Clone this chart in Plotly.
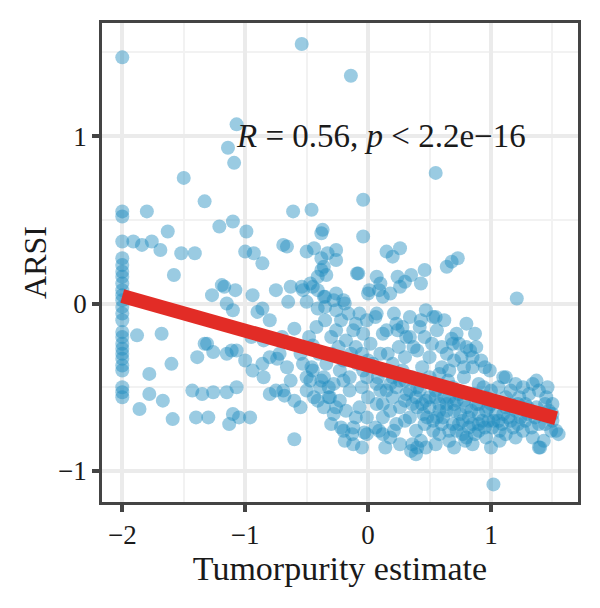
import plotly.graph_objects as go

# Tumor purity estimate (x) and ARSI (y)
purity = [
    -2.0, -2.0, -2.0, -2.0, -2.0, -2.0, -2.0, -2.0, -2.0, -2.0, -2.0, -2.0, -2.0,
    -2.0, -2.0, -2.0, -2.0, -2.0, -2.0, -2.0, -2.0, -2.0, -2.0, -2.0, -2.0, -2.0,
    -0.54, -0.14, -1.07, -1.14, -1.09, -1.5, 0.55, -1.33, -0.04, -0.61, -0.46, -1.8, -1.63, -1.21, -1.1, -0.99, -0.37, -0.04, -0.38,
    -1.91, -1.84, -1.76, -1.69, -1.52, -1.41, -1.58, -1.0, -0.93, -0.86, -0.69, -0.66, -0.5, -0.44,
    -0.38, -0.33, -0.26, -0.26, -0.36, -0.41, 0.15, 0.26, 0.2, 0.64, 0.68, 0.73, 0.46,
    -0.38, -0.34, -0.09, 0.07, 0.1, 0.01, 0.24, 0.3, 0.35, 0.43, 0.26, -0.08, -1.19, -1.08,
    -0.94, -0.75, -0.63, -0.54, -0.47, -0.41, -0.35, -0.26, 0.0, 0.09, 1.21, -1.27, -1.17, -1.15,
    -1.1, -0.86, -0.65, -0.53, -0.45, -0.36, -0.28, -0.2, -0.5, -0.41, 0.18, 0.12,
    -1.88, -1.68, -1.6, -1.78, -1.39, -1.33, -1.26, -1.15, -1.07, -1.0, -0.94, -0.86, -0.8, -0.72,
    -1.78, -1.67, -1.86, -1.59, -1.43, -1.35, -1.26, -1.15, -1.07, -1.1, -1.05, -0.96, -1.13, -1.4,
    -1.3, -0.8, -0.69, -0.66, -0.74, -1.31, -1.11,
    -0.85, -0.75, -0.68, -0.6, -0.55, -0.63, -0.5, -0.46, -0.38, -0.32, -0.6, -0.41, -0.32, -0.26,
    -0.22, -0.19, -0.13, -0.03, -0.07, -0.35, -0.26, -0.19, -0.53, -0.45, -0.36, -0.28, -0.2, -0.15,
    -0.39, -0.47, -0.31, -0.23, -0.12, -0.04, -0.18, -0.26, -0.1, -0.09, -0.04, -0.15, -0.23, -0.34,
    -0.2, -0.12, -0.07, -0.7, -0.6, -0.8, -0.9, -0.55, -0.45, -0.3, -0.2, -0.62, -0.95, -0.85,
    0.06, 0.21, 0.34, 0.43, 0.55, 0.12, 0.24, 0.31, 0.37, 0.07, -0.01, 0.15, 0.23, 0.28,
    0.42, 0.47, 0.53, 0.34, 0.8, 0.87, 0.52, 0.46, 0.68, 0.72, 0.69, 0.8, 0.88, 0.85,
    0.92, 0.95, 0.85, 0.76, 0.74, 0.83, 0.99, 1.12, 1.2, 1.37, 1.46, 1.34, 1.1,
    -0.01, 0.07, 0.15, 0.23, 0.31, 0.39, 0.47, 0.55, 0.64, 0.72, 0.8, 0.88, 0.96, 1.04,
    1.12, 1.2, 1.28, 1.37, 1.45,
    0.26, 0.34, 0.45, 0.53, 0.61, 0.69, 0.77, 0.85, 0.93, 1.01, 1.09, 1.18, 1.28, 1.39, 1.5, 1.53,
    -0.01, 0.09, 0.18, 0.36, 0.39, 0.47, 0.58, 0.66, 0.8, 0.85, 0.96, 1.07, 1.2, 1.39,
    0.12, 0.2, 0.28, 0.36, 0.45, 0.53, 0.61, 0.69, 0.74, 0.96, 1.04, 1.12, 1.23, 1.31, 1.39, 1.5,
    0.12, 0.2, 0.07, -0.01, 0.12, 0.23, 0.39, 0.53, 0.66, 0.77, 0.9, 1.07, 1.26, 1.34,
    0.35, 0.4, 0.43, 0.79, 0.87, 1.02, 1.4, 1.43, 1.49, 1.55, 0.06, 0.12, 0.21,
    0.3, 0.42, 0.5, 0.58, 0.62, 0.7, 0.75, 0.82, 0.9, 0.98, 1.0, 1.06, 1.14, 1.16,
    1.24, 1.3, 1.33, 1.42, 1.47, 0.6, 0.72, 0.95, 0.4, 0.48, 0.18, 0.3, 0.55, 0.65,
    0.78, 0.9, 1.0, 0.86, 0.1, 0.0, -0.05, 0.04, 0.16, 0.25, 0.5, 0.6, 0.64, 0.44,
    0.2, 0.1, 0.56, 0.62,
]
arsi = [
    1.47, 0.55, 0.52, 0.37, 0.27, 0.23, 0.19, 0.16, 0.12, 0.08, 0.05, 0.02, -0.02,
    -0.06, -0.1, -0.17, -0.2, -0.24, -0.27, -0.3, -0.33, -0.37, -0.4, -0.5, -0.53, -0.56,
    1.55, 1.36, 1.07, 0.93, 0.84, 0.75, 0.78, 0.61, 0.62, 0.55, 0.56, 0.55, 0.43, 0.46, 0.49, 0.43, 0.44, 0.4, 0.42,
    0.37, 0.35, 0.37, 0.32, 0.3, 0.3, 0.17, 0.31, 0.3, 0.24, 0.35, 0.34, 0.31, 0.33,
    0.27, 0.3, 0.32, 0.26, 0.22, 0.16, 0.31, 0.33, 0.28, 0.22, 0.25, 0.27, 0.2,
    0.2, 0.17, 0.18, 0.16, 0.12, 0.08, 0.16, 0.13, 0.17, 0.12, 0.1, 0.18, 0.11, 0.08,
    0.05, 0.08, 0.1, 0.1, 0.12, 0.08, 0.04, 0.06, 0.06, 0.08, 0.03, 0.05, 0.1, 0.0,
    -0.04, -0.03, 0.01, 0.08, 0.1, 0.04, 0.02, 0.02, 0.01, -0.03, 0.06, 0.04,
    -0.19, -0.18, -0.36, -0.42, -0.32, -0.24, -0.29, -0.3, -0.28, -0.34, -0.4, -0.36, -0.32, -0.3,
    -0.54, -0.58, -0.63, -0.69, -0.52, -0.54, -0.53, -0.53, -0.5, -0.66, -0.68, -0.68, -0.72, -0.68,
    -0.68, -0.54, -0.52, -0.38, -0.33, -0.24, -0.28,
    -0.44, -0.52, -0.55, -0.58, -0.62, -0.46, -0.44, -0.38, -0.46, -0.5, -0.81, -0.58, -0.56, -0.62,
    -0.74, -0.82, -0.78, -0.77, -0.06, -0.02, -0.04, 0.0, -0.36, -0.4, -0.44, -0.48, -0.46, -0.52,
    -0.5, -0.46, -0.56, -0.58, -0.16, -0.18, -0.22, -0.16, -0.26, -0.36, -0.4, -0.44, -0.4, -0.36,
    -0.76, -0.74, -0.62, -0.2, -0.15, -0.1, -0.05, -0.3, -0.25, -0.3, -0.34, -0.24, -0.2, -0.22,
    -0.08, -0.06, -0.08, -0.1, -0.08, -0.18, -0.16, -0.2, -0.26, -0.06, -0.1, -0.16, -0.12, -0.14,
    -0.14, -0.04, -0.08, -0.2, -0.12, -0.18, -0.24, -0.2, -0.21, -0.18, -0.24, -0.26, -0.26, -0.32,
    -0.34, -0.38, -0.38, -0.32, -0.24, -0.28, -0.4, -0.44, -0.48, -0.46, -0.5, -0.48, -0.44,
    -0.44, -0.48, -0.52, -0.5, -0.54, -0.56, -0.58, -0.56, -0.6, -0.58, -0.62, -0.6, -0.64, -0.66,
    -0.62, -0.64, -0.6, -0.62, -0.56,
    -0.62, -0.68, -0.66, -0.7, -0.68, -0.72, -0.7, -0.72, -0.7, -0.74, -0.72, -0.74, -0.7, -0.72, -0.7, -0.76,
    -0.78, -0.76, -0.8, -0.84, -0.9, -0.86, -0.78, -0.82, -0.8, -0.84, -0.8, -0.82, -0.8, -0.86,
    -0.4, -0.44, -0.4, -0.44, -0.46, -0.48, -0.5, -0.5, -0.54, -0.56, -0.58, -0.56, -0.56, -0.54, -0.52, -0.6,
    -0.6, -0.56, -0.6, -0.68, -0.68, -0.72, -0.76, -0.76, -0.76, -0.78, -0.76, -0.76, -0.76, -0.8,
    -0.88, -0.86, -0.82, -0.82, -0.78, -1.08, -0.86, -0.82, -0.76, -0.78, -0.74, -0.78, -0.76,
    -0.46, -0.52, -0.62, -0.64, -0.56, -0.64, -0.66, -0.68, -0.66, -0.7, -0.6, -0.7, -0.68, -0.6,
    -0.68, -0.66, -0.74, -0.66, -0.64, -0.72, -0.76, -0.74, -0.62, -0.68, -0.64, -0.7, -0.52, -0.46,
    -0.44, -0.48, -0.52, -0.54, -0.52, -0.56, -0.5, -0.36, -0.3, -0.26, -0.32, -0.38, -0.3, -0.38,
    -0.36, -0.3, -0.16, -0.1,
]

# Extra points in the densest part of the cloud
purity_dense = [
    -0.48, -0.42, -0.35, -0.3, -0.22, -0.16, -0.1, -0.05, 0.02, 0.0, -0.14,
    -0.24, -0.4, -0.5, -0.44, -0.36, -0.28, -0.1, -0.18, -0.3, -0.12, -0.05,
    0.3, 0.36, 0.44, 0.5, 0.58, 0.66, 0.7, 0.78, 0.84, 0.9,
    0.98, 1.02, 1.1, 1.16, 1.22, 1.3, 1.36, 1.44, 1.5, 0.46,
    0.56, 0.64, 0.74, 0.82, 0.9, 1.12, 1.22, 0.34, 0.26, 0.18,
    0.08, 0.4, 0.5, 0.58, 0.66, 0.7, 0.78, 0.6, 0.4, 0.3,
    0.94, 1.06, 1.16, 1.26, 1.44, 1.0, 0.7, 0.55, 0.26, 0.14,
]
arsi_dense = [
    -0.2, -0.14, -0.1, -0.2, -0.1, -0.06, -0.12, -0.3, -0.24, -0.34, -0.3,
    -0.26, -0.3, -0.52, -0.56, -0.62, -0.66, -0.68, -0.64, -0.72, -0.84, -0.86,
    -0.58, -0.6, -0.6, -0.56, -0.6, -0.56, -0.6, -0.58, -0.64, -0.6,
    -0.62, -0.7, -0.66, -0.7, -0.72, -0.62, -0.68, -0.72, -0.66, -0.72,
    -0.68, -0.64, -0.72, -0.74, -0.72, -0.78, -0.6, -0.52, -0.46, -0.48,
    -0.44, -0.5, -0.44, -0.42, -0.4, -0.34, -0.38, -0.26, -0.28, -0.32,
    -0.5, -0.5, -0.52, -0.5, -0.6, -0.86, -0.86, -0.84, -0.84, -0.86,
]

# Regression line end points
fit_x = [-2.0, 1.53]
fit_y = [0.045, -0.685]

x_ticks = [-2, -1, 0, 1]
x_tick_text = ["\u22122", "\u22121", "0", "1"]
y_ticks = [-1, 0, 1]
y_tick_text = ["\u22121", "0", "1"]
annotation_text = "<i>R</i> = 0.56, <i>p</i> &lt; 2.2e\u221216"

FONT = "Liberation Serif"

fig = go.Figure()
fig.add_trace(go.Scatter(
    x=purity + purity_dense, y=arsi + arsi_dense, mode="markers",
    marker=dict(size=14, color="rgb(30,140,190)", opacity=0.45, line=dict(width=0)),
    hoverinfo="skip", showlegend=False,
))
fig.add_trace(go.Scatter(
    x=fit_x, y=fit_y, mode="lines",
    line=dict(color="rgb(226,44,38)", width=14),
    hoverinfo="skip", showlegend=False,
))

axis_common = dict(
    showline=True, mirror=True, linecolor="#444444", linewidth=2.5,
    ticks="outside", ticklen=7, tickwidth=4, tickcolor="#444444",
    showgrid=True, gridcolor="#ebebeb", gridwidth=4,
    zeroline=False,
    tickfont=dict(family=FONT, size=27, color="#1a1a1a"),
)

fig.update_xaxes(
    **axis_common,
    range=[-2.165, 1.708],
    tickvals=x_ticks, ticktext=x_tick_text,
    minor=dict(dtick=0.5, tick0=0, showgrid=True, gridcolor="#f2f2f2", gridwidth=2, ticks=""),
    title=dict(text="Tumorpurity estimate", font=dict(family=FONT, size=34, color="#1a1a1a"), standoff=6),
)
fig.update_yaxes(
    **axis_common,
    range=[-1.185, 1.675],
    tickvals=y_ticks, ticktext=y_tick_text,
    minor=dict(dtick=0.5, tick0=0, showgrid=True, gridcolor="#f2f2f2", gridwidth=2, ticks=""),
    title=dict(text="ARSI", font=dict(family=FONT, size=32, color="#1a1a1a"), standoff=2),
)

fig.add_annotation(
    x=0.107, y=1.0, xref="x", yref="y", text=annotation_text,
    showarrow=False, xanchor="center", yanchor="middle",
    font=dict(family=FONT, size=33, color="#1a1a1a"),
)

fig.update_layout(
    width=600, height=608,
    margin=dict(l=102, r=22, t=23, b=106),
    paper_bgcolor="white", plot_bgcolor="white",
)

fig.write_html("out.html")
